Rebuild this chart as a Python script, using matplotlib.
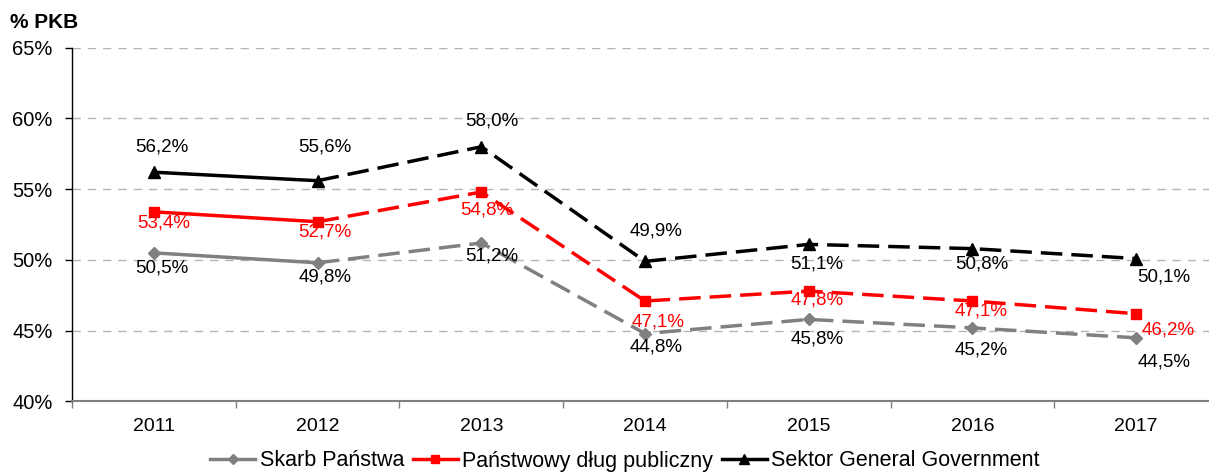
import matplotlib.pyplot as plt
from matplotlib.lines import Line2D

years = ['2011', '2012', '2013', '2014', '2015', '2016', '2017']
skarb_panstwa = [50.5, 49.8, 51.2, 44.8, 45.8, 45.2, 44.5]
dlug_publiczny = [53.4, 52.7, 54.8, 47.1, 47.8, 47.1, 46.2]
sektor_gg = [56.2, 55.6, 58.0, 49.9, 51.1, 50.8, 50.1]
series_names = ['Skarb Państwa', 'Państwowy dług publiczny', 'Sektor General Government']
y_ticks = [40, 45, 50, 55, 60, 65]
last_actual = 1  # index of 2012: after it the values are forecasts (dashed)

plt.rcParams['font.family'] = ['Liberation Sans', 'DejaVu Sans']
narrow = ['Liberation Sans Narrow', 'Liberation Sans', 'DejaVu Sans']

fig = plt.figure(figsize=(12.09, 4.72), dpi=100)
ax = fig.add_axes([0.0596, 0.1494, 0.9479, 0.7496])

# colour, marker, marker size, label colour, label offsets in pixels
styles = [
    ('#808080', 'D', 6.5, 'black',
     [(8, -15), (7, -14), (10, -13), (11, -13), (8, -20), (9, -22), (28, -24)]),
    ('#ff0000', 's', 7.5, '#ff0000',
     [(10, -11), (7, -10), (5, -18), (13, -21), (8, -9), (9, -10), (32, -16)]),
    ('black', '^', 9, 'black',
     [(8, 25), (7, 34), (10, 26), (11, 30), (8, -20), (9, -15), (28, -18)]),
]
data = [skarb_panstwa, dlug_publiczny, sektor_gg]
x = list(range(len(years)))

handles = []
for values, name, (color, marker, ms, lab_color, offsets) in zip(data, series_names, styles):
    ax.plot(x[:last_actual + 1], values[:last_actual + 1], color=color, lw=2.5,
            solid_capstyle='butt', zorder=3)
    ax.plot(x[last_actual:], values[last_actual:], color=color, lw=2.5,
            linestyle=(0, (6.2, 2.6)), dash_capstyle='butt', zorder=3)
    ax.plot(x, values, linestyle='none', marker=marker, ms=ms, color=color, zorder=4)
    for xi, v, (dx, dy) in zip(x, values, offsets):
        ax.annotate(f'{v:.1f}%'.replace('.', ','), (xi, v), xytext=(dx, dy),
                    textcoords='offset pixels', ha='center', va='center',
                    fontsize=13.5, family=narrow, color=lab_color, zorder=5)
    handles.append(Line2D([], [], color=color, lw=2.5, marker=marker, ms=ms * 0.85,
                          label=name))

ax.set_xlim(-0.5, len(years) - 0.5)
ax.set_ylim(y_ticks[0], y_ticks[-1])
ax.set_yticks(y_ticks)
ax.set_yticklabels([f'{t}%' for t in y_ticks])
ax.set_xticks(x)
ax.set_xticklabels(years)
ax.set_xticks([i - 0.5 for i in range(len(years) + 1)], minor=True)

ax.tick_params(axis='x', which='major', length=0, pad=12, labelsize=14)
ax.tick_params(axis='x', which='minor', length=5, width=1, color='#808080')
ax.tick_params(axis='y', length=5, width=1, pad=9, labelsize=14.5)

for t in y_ticks[1:]:
    ax.axhline(t, color='#b4b4b4', lw=1, linestyle=(0, (6, 5)), zorder=1)

ax.spines['top'].set_visible(False)
ax.spines['right'].set_visible(False)
ax.spines['left'].set_linewidth(1)
ax.spines['bottom'].set_color('#808080')
ax.spines['bottom'].set_linewidth(1.5)

fig.text(10 / 1209, 1 - 28 / 472, '% PKB', fontsize=15, fontweight='bold', va='baseline')

fig.legend(handles=handles, loc='center', bbox_to_anchor=(625 / 1209, 1 - 461 / 472),
           ncol=3, frameon=False, fontsize=15.5, handlelength=2.1, handletextpad=0.2,
           columnspacing=0.4, borderpad=0)

fig.savefig('out.png', dpi=100)
